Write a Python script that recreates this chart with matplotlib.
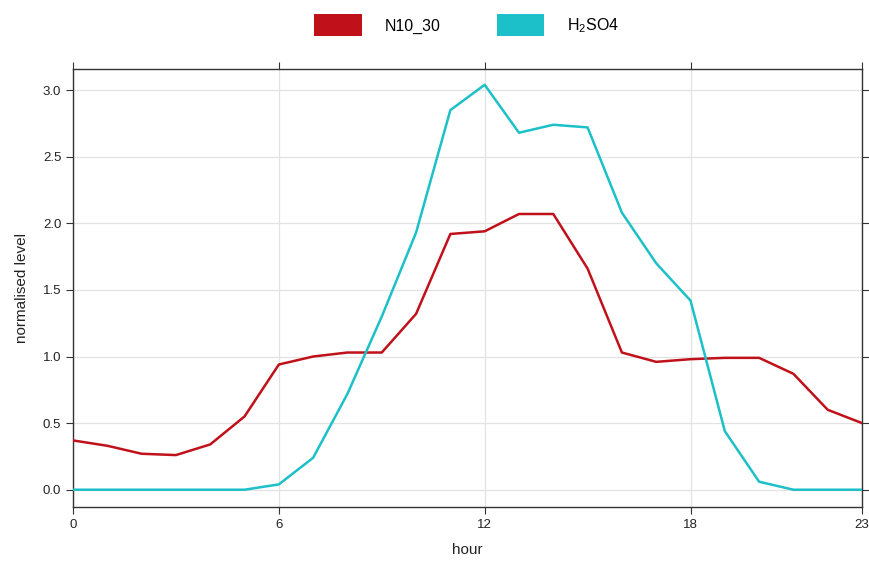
import matplotlib
matplotlib.use("Agg")
import matplotlib.pyplot as plt
from matplotlib.patches import Patch

hours = list(range(24))
n10_30 = [0.37, 0.33, 0.27, 0.26, 0.34, 0.55, 0.94, 1.00, 1.03, 1.03, 1.32, 1.92,
          1.94, 2.07, 2.07, 1.66, 1.03, 0.96, 0.98, 0.99, 0.99, 0.87, 0.60, 0.50]
h2so4 = [0.0, 0.0, 0.0, 0.0, 0.0, 0.0, 0.04, 0.24, 0.72, 1.30, 1.93, 2.85,
         3.04, 2.68, 2.74, 2.72, 2.08, 1.70, 1.42, 0.44, 0.06, 0.0, 0.0, 0.0]
series_names = ["N10_30", r"H$_2$SO4"]
colors = ["#C0111A", "#1CC0C8"]
xticks = [0, 6, 12, 18, 23]
yticks = [0.0, 0.5, 1.0, 1.5, 2.0, 2.5, 3.0]

plt.rcParams['font.family'] = ['Liberation Sans', 'DejaVu Sans']
plt.rcParams['mathtext.fontset'] = 'custom'
plt.rcParams['mathtext.rm'] = 'Liberation Sans'

fig = plt.figure(figsize=(8.69, 5.64), dpi=100)
ax = fig.add_axes([0.084, 0.101, 0.908, 0.777])

for vals, c in zip([n10_30, h2so4], colors):
    ax.plot(hours, vals, color=c, lw=1.8, zorder=3)

ax.set_xlim(0, 23)
ax.set_ylim(-0.13, 3.16)
ax.set_xticks(xticks)
ax.set_yticks(yticks)
ax.set_yticklabels([f"{v:.1f}" for v in yticks])
ax.grid(True, color="#e3e3e3", lw=0.9, zorder=0)
for s in ax.spines.values():
    s.set_color("#333333")
    s.set_linewidth(1.0)
ax.tick_params(axis='both', direction='out', length=5, color="#333333",
               labelsize=9.5, labelcolor="#222222", top=True, right=True,
               labeltop=False, labelright=False)
ax.set_xlabel("hour", fontsize=11, color="#222222", labelpad=9)
ax.set_ylabel("normalised level", fontsize=11, color="#222222", labelpad=10)

handles = [Patch(facecolor=c, edgecolor='none') for c in colors]
fig.legend(handles, series_names, loc='center', bbox_to_anchor=(0.537, 0.955),
           ncol=2, frameon=False, fontsize=11.5, handlelength=2.95, handleheight=1.75,
           columnspacing=3.5, handletextpad=1.45)

fig.savefig("out.png", dpi=100)
